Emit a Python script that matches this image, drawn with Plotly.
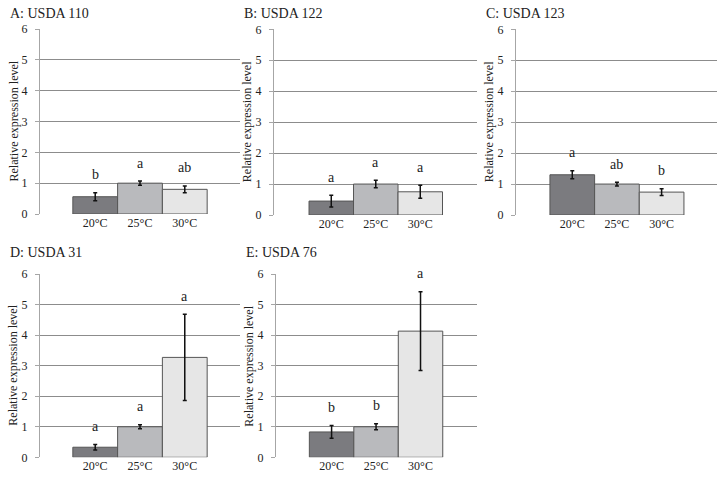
import plotly.graph_objects as go

categories = ["20°C", "25°C", "30°C"]
panel_titles = ["A: USDA 110", "B: USDA 122", "C: USDA 123", "D: USDA 31", "E: USDA 76"]

means_A = [0.56, 1.00, 0.80]
err_A = [0.13, 0.07, 0.11]
letters_A = ["b", "a", "ab"]

means_B = [0.45, 1.00, 0.75]
err_B = [0.19, 0.12, 0.21]
letters_B = ["a", "a", "a"]

means_C = [1.30, 1.00, 0.74]
err_C = [0.13, 0.06, 0.11]
letters_C = ["a", "ab", "b"]

means_D = [0.33, 1.00, 3.27]
err_D = [0.09, 0.065, 1.41]
letters_D = ["a", "a", "a"]

means_E = [0.83, 1.00, 4.13]
err_E = [0.21, 0.10, 1.29]
letters_E = ["b", "b", "a"]

y_ticks = [0, 1, 2, 3, 4, 5, 6]
y_title = "Relative expression level"

bar_colors = ["#7b7b7f", "#b9babd", "#e6e6e6"]
FONT = "Liberation Serif, Times New Roman, serif"
W, H = 725, 477

# pixel boxes: (x0, x1, ytop, ybottom), x-range
panels = [
    (means_A, err_A, letters_A, (40, 240, 29, 214), (-1.233, 3.233)),
    (means_B, err_B, letters_B, (274, 477, 29.3, 215), (-1.287, 3.275)),
    (means_C, err_C, letters_C, (516, 717, 29.3, 215), (-1.26, 3.24)),
    (means_D, err_D, letters_D, (40, 240, 274, 457.3), (-1.233, 3.233)),
    (means_E, err_E, letters_E, (276, 477, 274, 457.3), (-1.25, 3.27)),
]

fig = go.Figure()
annotations = []
layout = {}
for i, (means, errs, letters, box, xr) in enumerate(panels):
    n = "" if i == 0 else str(i + 1)
    xa, ya = "x" + n, "y" + n
    x0, x1, yt, yb = box
    fig.add_trace(go.Bar(
        x=categories, y=means, xaxis=xa, yaxis=ya,
        marker=dict(color=bar_colors, line=dict(color="#555555", width=1)),
        error_y=dict(type="data", array=errs, visible=True, color="#111111",
                     thickness=1.5, width=2),
        showlegend=False, hoverinfo="skip",
    ))
    layout["xaxis" + n] = dict(
        domain=[x0 / W, x1 / W], anchor=ya, type="category", range=list(xr),
        showgrid=False, zeroline=False, showline=False, ticks="",
        tickfont=dict(family=FONT, size=12, color="#222222"),
        automargin=False, fixedrange=True,
    )
    layout["yaxis" + n] = dict(
        domain=[1 - yb / H, 1 - yt / H], anchor=xa, range=[0, 6],
        tickvals=y_ticks, ticktext=[str(t) for t in y_ticks],
        showgrid=True, gridcolor="#8c8c8c", gridwidth=1,
        zeroline=False, showline=True, linecolor="#a6a6a6", linewidth=1,
        ticks="outside", ticklen=4, tickcolor="#a6a6a6",
        ticklabelstandoff=5,
        tickfont=dict(family=FONT, size=12, color="#222222"),
        automargin=False, fixedrange=True,
    )
    for cat, m, e, lt in zip(categories, means, errs, letters):
        annotations.append(dict(
            x=cat, y=m + e, xref=xa, yref=ya, text=lt, showarrow=False,
            yanchor="middle", yshift=18,
            font=dict(family=FONT, size=14, color="#222222"),
        ))
    annotations.append(dict(
        x=(x0 - 27) / W, y=1 - ((yt + yb) / 2) / H,
        xref="paper", yref="paper", text=y_title, showarrow=False,
        textangle=-90, xanchor="center", yanchor="middle",
        font=dict(family=FONT, size=12, color="#222222"),
    ))
    annotations.append(dict(
        x=(x0 - 32) / W, y=1 - (yt - 16 if i < 3 else yt - 22) / H,
        xref="paper", yref="paper", text=panel_titles[i], showarrow=False,
        xanchor="left", yanchor="middle",
        font=dict(family=FONT, size=14, color="#222222"),
    ))

fig.update_layout(
    width=W, height=H, margin=dict(l=0, r=0, t=0, b=0, autoexpand=False),
    paper_bgcolor="white", plot_bgcolor="white",
    bargap=0, annotations=annotations, **layout,
)
fig.write_html(
    "out.html",
    config={"displayModeBar": False, "staticPlot": True},
    post_script="document.body.style.margin='0';document.body.style.overflow='hidden';",
)
